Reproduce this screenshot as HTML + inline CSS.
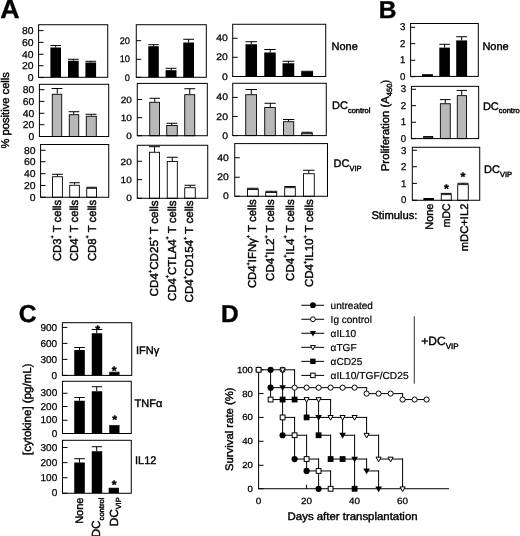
<!DOCTYPE html>
<html><head><meta charset="utf-8"><title>Figure</title>
<style>
html,body{margin:0;padding:0;background:#fff;}
svg{display:block;font-family:'Liberation Sans', sans-serif;}
text{fill:#000;stroke:#000;stroke-width:0.4px;text-rendering:geometricPrecision;}
</style></head>
<body>
<svg width="520" height="536" viewBox="0 0 520 536" font-family="'Liberation Sans', sans-serif">
<rect x="0" y="0" width="520" height="536" fill="#fff"/>
<text x="0.20" y="17.90" font-size="26" text-anchor="start" font-weight="bold" textLength="19.3" lengthAdjust="spacingAndGlyphs">A</text>
<line x1="55.70" y1="47.50" x2="55.70" y2="45.50" stroke="#000" stroke-width="1.0"/>
<line x1="50.40" y1="45.50" x2="61.00" y2="45.50" stroke="#000" stroke-width="1.0"/>
<rect x="50.40" y="47.50" width="10.60" height="29.80" fill="#000" stroke="none" stroke-width="0"/>
<line x1="73.35" y1="60.75" x2="73.35" y2="59.25" stroke="#000" stroke-width="1.0"/>
<line x1="68.00" y1="59.27" x2="78.70" y2="59.27" stroke="#000" stroke-width="1.0"/>
<rect x="68.00" y="60.75" width="10.70" height="16.55" fill="#000" stroke="none" stroke-width="0"/>
<line x1="90.73" y1="62.50" x2="90.73" y2="61.25" stroke="#000" stroke-width="1.0"/>
<line x1="85.40" y1="61.27" x2="96.10" y2="61.27" stroke="#000" stroke-width="1.0"/>
<rect x="85.40" y="62.50" width="10.70" height="14.80" fill="#000" stroke="none" stroke-width="0"/>
<rect x="38.60" y="24.73" width="69.13" height="52.57" fill="none" stroke="#000" stroke-width="1.0"/>
<line x1="38.60" y1="77.60" x2="43.60" y2="77.60" stroke="#000" stroke-width="1.0"/>
<text transform="translate(33.60 81.00) scale(1.04 1)" font-size="10" text-anchor="end" style="stroke-width:0.25px">0</text>
<line x1="38.60" y1="65.73" x2="43.60" y2="65.73" stroke="#000" stroke-width="1.0"/>
<text transform="translate(33.60 69.25) scale(1.04 1)" font-size="10" text-anchor="end" style="stroke-width:0.25px">20</text>
<line x1="38.60" y1="54.27" x2="43.60" y2="54.27" stroke="#000" stroke-width="1.0"/>
<text transform="translate(33.60 57.50) scale(1.04 1)" font-size="10" text-anchor="end" style="stroke-width:0.25px">40</text>
<line x1="38.60" y1="42.35" x2="43.60" y2="42.35" stroke="#000" stroke-width="1.0"/>
<text transform="translate(33.60 45.75) scale(1.04 1)" font-size="10" text-anchor="end" style="stroke-width:0.25px">60</text>
<line x1="38.60" y1="30.60" x2="43.60" y2="30.60" stroke="#000" stroke-width="1.0"/>
<text transform="translate(33.60 34.00) scale(1.04 1)" font-size="10" text-anchor="end" style="stroke-width:0.25px">80</text>
<line x1="57.27" y1="93.70" x2="57.27" y2="88.50" stroke="#000" stroke-width="1.0"/>
<line x1="51.60" y1="88.50" x2="62.40" y2="88.50" stroke="#000" stroke-width="1.0"/>
<rect x="52.27" y="94.27" width="9.46" height="42.23" fill="#b8b8b8" stroke="#000" stroke-width="0.9"/>
<line x1="73.73" y1="114.40" x2="73.73" y2="111.90" stroke="#000" stroke-width="1.0"/>
<line x1="68.60" y1="111.73" x2="79.30" y2="111.73" stroke="#000" stroke-width="1.0"/>
<rect x="69.27" y="114.73" width="9.46" height="21.77" fill="#b8b8b8" stroke="#000" stroke-width="0.9"/>
<line x1="91.27" y1="115.80" x2="91.27" y2="114.20" stroke="#000" stroke-width="1.0"/>
<line x1="85.60" y1="114.27" x2="96.50" y2="114.27" stroke="#000" stroke-width="1.0"/>
<rect x="86.27" y="116.27" width="10.00" height="20.23" fill="#b8b8b8" stroke="#000" stroke-width="0.9"/>
<rect x="39.40" y="84.30" width="69.30" height="52.20" fill="none" stroke="#000" stroke-width="1.0"/>
<line x1="39.40" y1="136.50" x2="44.40" y2="136.50" stroke="#000" stroke-width="1.0"/>
<text transform="translate(34.20 139.90) scale(1.04 1)" font-size="10" text-anchor="end" style="stroke-width:0.25px">0</text>
<line x1="39.40" y1="124.73" x2="44.40" y2="124.73" stroke="#000" stroke-width="1.0"/>
<text transform="translate(34.20 128.20) scale(1.04 1)" font-size="10" text-anchor="end" style="stroke-width:0.25px">20</text>
<line x1="39.40" y1="113.27" x2="44.40" y2="113.27" stroke="#000" stroke-width="1.0"/>
<text transform="translate(34.20 116.50) scale(1.04 1)" font-size="10" text-anchor="end" style="stroke-width:0.25px">40</text>
<line x1="39.40" y1="101.40" x2="44.40" y2="101.40" stroke="#000" stroke-width="1.0"/>
<text transform="translate(34.20 104.80) scale(1.04 1)" font-size="10" text-anchor="end" style="stroke-width:0.25px">60</text>
<line x1="39.40" y1="89.70" x2="44.40" y2="89.70" stroke="#000" stroke-width="1.0"/>
<text transform="translate(34.20 93.10) scale(1.04 1)" font-size="10" text-anchor="end" style="stroke-width:0.25px">80</text>
<line x1="57.48" y1="176.30" x2="57.48" y2="174.00" stroke="#000" stroke-width="1.0"/>
<line x1="52.10" y1="174.27" x2="62.85" y2="174.27" stroke="#000" stroke-width="1.0"/>
<rect x="52.55" y="176.73" width="9.85" height="20.54" fill="#fff" stroke="#000" stroke-width="0.9"/>
<line x1="74.60" y1="184.60" x2="74.60" y2="182.90" stroke="#000" stroke-width="1.0"/>
<line x1="69.40" y1="182.73" x2="79.80" y2="182.73" stroke="#000" stroke-width="1.0"/>
<rect x="69.73" y="185.27" width="9.62" height="12.00" fill="#fff" stroke="#000" stroke-width="0.9"/>
<line x1="91.70" y1="187.75" x2="91.70" y2="187.00" stroke="#000" stroke-width="1.0"/>
<line x1="86.40" y1="187.27" x2="97.00" y2="187.27" stroke="#000" stroke-width="1.0"/>
<rect x="86.73" y="188.27" width="9.82" height="9.00" fill="#fff" stroke="#000" stroke-width="0.9"/>
<rect x="40.60" y="144.50" width="68.13" height="52.77" fill="none" stroke="#000" stroke-width="1.0"/>
<line x1="40.60" y1="197.27" x2="45.60" y2="197.27" stroke="#000" stroke-width="1.0"/>
<text transform="translate(35.60 200.70) scale(1.04 1)" font-size="10" text-anchor="end" style="stroke-width:0.25px">0</text>
<line x1="40.60" y1="185.45" x2="45.60" y2="185.45" stroke="#000" stroke-width="1.0"/>
<text transform="translate(35.60 188.95) scale(1.04 1)" font-size="10" text-anchor="end" style="stroke-width:0.25px">20</text>
<line x1="40.60" y1="173.70" x2="45.60" y2="173.70" stroke="#000" stroke-width="1.0"/>
<text transform="translate(35.60 177.20) scale(1.04 1)" font-size="10" text-anchor="end" style="stroke-width:0.25px">40</text>
<line x1="40.60" y1="161.73" x2="45.60" y2="161.73" stroke="#000" stroke-width="1.0"/>
<text transform="translate(35.60 165.45) scale(1.04 1)" font-size="10" text-anchor="end" style="stroke-width:0.25px">60</text>
<line x1="40.60" y1="150.27" x2="45.60" y2="150.27" stroke="#000" stroke-width="1.0"/>
<text transform="translate(35.60 153.70) scale(1.04 1)" font-size="10" text-anchor="end" style="stroke-width:0.25px">80</text>
<line x1="153.55" y1="46.20" x2="153.55" y2="44.70" stroke="#000" stroke-width="1.0"/>
<line x1="148.30" y1="44.70" x2="158.80" y2="44.70" stroke="#000" stroke-width="1.0"/>
<rect x="148.30" y="46.20" width="10.50" height="31.10" fill="#000" stroke="none" stroke-width="0"/>
<line x1="171.27" y1="70.15" x2="171.27" y2="68.30" stroke="#000" stroke-width="1.0"/>
<line x1="165.60" y1="68.30" x2="176.50" y2="68.30" stroke="#000" stroke-width="1.0"/>
<rect x="165.60" y="70.15" width="10.90" height="7.15" fill="#000" stroke="none" stroke-width="0"/>
<line x1="188.62" y1="42.50" x2="188.62" y2="39.25" stroke="#000" stroke-width="1.0"/>
<line x1="183.25" y1="39.27" x2="194.00" y2="39.27" stroke="#000" stroke-width="1.0"/>
<rect x="183.25" y="42.50" width="10.75" height="34.80" fill="#000" stroke="none" stroke-width="0"/>
<rect x="136.27" y="24.73" width="70.03" height="52.57" fill="none" stroke="#000" stroke-width="1.0"/>
<line x1="136.15" y1="77.30" x2="141.15" y2="77.30" stroke="#000" stroke-width="1.0"/>
<text transform="translate(129.95 80.70) scale(0.97 1)" font-size="9.5" text-anchor="end" style="stroke-width:0.25px">0</text>
<line x1="136.15" y1="59.27" x2="141.15" y2="59.27" stroke="#000" stroke-width="1.0"/>
<text transform="translate(129.95 62.40) scale(0.97 1)" font-size="9.5" text-anchor="end" style="stroke-width:0.25px">10</text>
<line x1="136.15" y1="40.70" x2="141.15" y2="40.70" stroke="#000" stroke-width="1.0"/>
<text transform="translate(129.95 44.10) scale(0.97 1)" font-size="9.5" text-anchor="end" style="stroke-width:0.25px">20</text>
<line x1="154.73" y1="101.80" x2="154.73" y2="98.10" stroke="#000" stroke-width="1.0"/>
<line x1="149.50" y1="98.27" x2="160.00" y2="98.27" stroke="#000" stroke-width="1.0"/>
<rect x="149.73" y="102.27" width="9.82" height="33.46" fill="#b8b8b8" stroke="#000" stroke-width="0.9"/>
<line x1="171.73" y1="125.00" x2="171.73" y2="123.00" stroke="#000" stroke-width="1.0"/>
<line x1="166.40" y1="123.27" x2="177.50" y2="123.27" stroke="#000" stroke-width="1.0"/>
<rect x="166.73" y="125.45" width="10.54" height="10.28" fill="#b8b8b8" stroke="#000" stroke-width="0.9"/>
<line x1="189.73" y1="94.25" x2="189.73" y2="88.75" stroke="#000" stroke-width="1.0"/>
<line x1="184.30" y1="88.73" x2="195.20" y2="88.73" stroke="#000" stroke-width="1.0"/>
<rect x="184.73" y="94.70" width="10.00" height="41.03" fill="#b8b8b8" stroke="#000" stroke-width="0.9"/>
<rect x="137.27" y="83.40" width="70.03" height="52.33" fill="none" stroke="#000" stroke-width="1.0"/>
<line x1="137.20" y1="135.73" x2="142.20" y2="135.73" stroke="#000" stroke-width="1.0"/>
<text transform="translate(131.90 139.10) scale(1.12 1)" font-size="9" text-anchor="end" style="stroke-width:0.25px">0</text>
<line x1="137.20" y1="117.70" x2="142.20" y2="117.70" stroke="#000" stroke-width="1.0"/>
<text transform="translate(131.90 120.90) scale(1.12 1)" font-size="9" text-anchor="end" style="stroke-width:0.25px">10</text>
<line x1="137.20" y1="99.50" x2="142.20" y2="99.50" stroke="#000" stroke-width="1.0"/>
<text transform="translate(131.90 102.70) scale(1.12 1)" font-size="9" text-anchor="end" style="stroke-width:0.25px">20</text>
<line x1="154.50" y1="151.80" x2="154.50" y2="146.70" stroke="#000" stroke-width="1.0"/>
<line x1="149.00" y1="146.70" x2="160.00" y2="146.70" stroke="#000" stroke-width="1.0"/>
<rect x="149.45" y="152.27" width="10.10" height="46.00" fill="#fff" stroke="#000" stroke-width="0.9"/>
<line x1="172.27" y1="161.00" x2="172.27" y2="157.00" stroke="#000" stroke-width="1.0"/>
<line x1="166.75" y1="157.27" x2="177.75" y2="157.27" stroke="#000" stroke-width="1.0"/>
<rect x="167.27" y="161.45" width="10.03" height="36.82" fill="#fff" stroke="#000" stroke-width="0.9"/>
<line x1="190.27" y1="187.25" x2="190.27" y2="185.25" stroke="#000" stroke-width="1.0"/>
<line x1="184.50" y1="185.27" x2="195.50" y2="185.27" stroke="#000" stroke-width="1.0"/>
<rect x="184.73" y="187.70" width="10.54" height="10.57" fill="#fff" stroke="#000" stroke-width="0.9"/>
<rect x="137.27" y="145.27" width="70.46" height="53.00" fill="none" stroke="#000" stroke-width="1.0"/>
<line x1="137.10" y1="198.27" x2="142.10" y2="198.27" stroke="#000" stroke-width="1.0"/>
<text transform="translate(131.80 201.20) scale(1.12 1)" font-size="9" text-anchor="end" style="stroke-width:0.25px">0</text>
<line x1="137.10" y1="179.65" x2="142.10" y2="179.65" stroke="#000" stroke-width="1.0"/>
<text transform="translate(131.80 182.85) scale(1.12 1)" font-size="9" text-anchor="end" style="stroke-width:0.25px">10</text>
<line x1="137.10" y1="161.30" x2="142.10" y2="161.30" stroke="#000" stroke-width="1.0"/>
<text transform="translate(131.80 164.50) scale(1.12 1)" font-size="9" text-anchor="end" style="stroke-width:0.25px">20</text>
<line x1="251.27" y1="44.25" x2="251.27" y2="41.75" stroke="#000" stroke-width="1.0"/>
<line x1="245.50" y1="41.73" x2="257.00" y2="41.73" stroke="#000" stroke-width="1.0"/>
<rect x="245.50" y="44.25" width="11.50" height="32.25" fill="#000" stroke="none" stroke-width="0"/>
<line x1="270.27" y1="52.50" x2="270.27" y2="49.50" stroke="#000" stroke-width="1.0"/>
<line x1="264.25" y1="49.50" x2="275.75" y2="49.50" stroke="#000" stroke-width="1.0"/>
<rect x="264.25" y="52.50" width="11.50" height="24.00" fill="#000" stroke="none" stroke-width="0"/>
<line x1="288.38" y1="63.25" x2="288.38" y2="61.00" stroke="#000" stroke-width="1.0"/>
<line x1="282.50" y1="61.27" x2="294.25" y2="61.27" stroke="#000" stroke-width="1.0"/>
<rect x="282.50" y="63.25" width="11.75" height="13.25" fill="#000" stroke="none" stroke-width="0"/>
<line x1="307.27" y1="71.60" x2="307.27" y2="71.00" stroke="#000" stroke-width="1.0"/>
<line x1="301.20" y1="71.27" x2="313.10" y2="71.27" stroke="#000" stroke-width="1.0"/>
<rect x="301.20" y="71.60" width="11.90" height="4.90" fill="#000" stroke="none" stroke-width="0"/>
<rect x="232.70" y="24.27" width="93.03" height="52.23" fill="none" stroke="#000" stroke-width="1.0"/>
<line x1="232.70" y1="76.50" x2="237.70" y2="76.50" stroke="#000" stroke-width="1.0"/>
<text transform="translate(227.90 79.50) scale(1.1 1)" font-size="9.5" text-anchor="end" style="stroke-width:0.25px">0</text>
<line x1="232.70" y1="57.30" x2="237.70" y2="57.30" stroke="#000" stroke-width="1.0"/>
<text transform="translate(227.90 60.30) scale(1.1 1)" font-size="9.5" text-anchor="end" style="stroke-width:0.25px">20</text>
<line x1="232.70" y1="38.27" x2="237.70" y2="38.27" stroke="#000" stroke-width="1.0"/>
<text transform="translate(227.90 41.10) scale(1.1 1)" font-size="9.5" text-anchor="end" style="stroke-width:0.25px">40</text>
<line x1="251.27" y1="94.50" x2="251.27" y2="89.50" stroke="#000" stroke-width="1.0"/>
<line x1="245.50" y1="89.50" x2="257.00" y2="89.50" stroke="#000" stroke-width="1.0"/>
<rect x="245.73" y="94.73" width="10.82" height="40.87" fill="#b8b8b8" stroke="#000" stroke-width="0.9"/>
<line x1="270.27" y1="107.00" x2="270.27" y2="103.00" stroke="#000" stroke-width="1.0"/>
<line x1="264.50" y1="103.27" x2="275.75" y2="103.27" stroke="#000" stroke-width="1.0"/>
<rect x="264.73" y="107.45" width="10.57" height="28.15" fill="#b8b8b8" stroke="#000" stroke-width="0.9"/>
<line x1="288.62" y1="121.25" x2="288.62" y2="119.50" stroke="#000" stroke-width="1.0"/>
<line x1="283.00" y1="119.50" x2="294.25" y2="119.50" stroke="#000" stroke-width="1.0"/>
<rect x="283.45" y="121.70" width="10.28" height="13.90" fill="#b8b8b8" stroke="#000" stroke-width="0.9"/>
<line x1="307.27" y1="132.85" x2="307.27" y2="132.20" stroke="#000" stroke-width="1.0"/>
<line x1="301.50" y1="132.27" x2="312.50" y2="132.27" stroke="#000" stroke-width="1.0"/>
<rect x="301.73" y="133.30" width="10.54" height="2.30" fill="#b8b8b8" stroke="#000" stroke-width="0.9"/>
<rect x="232.73" y="83.27" width="93.54" height="52.33" fill="none" stroke="#000" stroke-width="1.0"/>
<line x1="232.80" y1="135.60" x2="237.80" y2="135.60" stroke="#000" stroke-width="1.0"/>
<text transform="translate(228.00 138.60) scale(1.1 1)" font-size="9.5" text-anchor="end" style="stroke-width:0.25px">0</text>
<line x1="232.80" y1="116.50" x2="237.80" y2="116.50" stroke="#000" stroke-width="1.0"/>
<text transform="translate(228.00 119.50) scale(1.1 1)" font-size="9.5" text-anchor="end" style="stroke-width:0.25px">20</text>
<line x1="232.80" y1="97.40" x2="237.80" y2="97.40" stroke="#000" stroke-width="1.0"/>
<text transform="translate(228.00 100.40) scale(1.1 1)" font-size="9.5" text-anchor="end" style="stroke-width:0.25px">40</text>
<line x1="252.73" y1="189.00" x2="252.73" y2="188.25" stroke="#000" stroke-width="1.0"/>
<line x1="247.00" y1="188.27" x2="258.50" y2="188.27" stroke="#000" stroke-width="1.0"/>
<rect x="247.45" y="189.45" width="10.82" height="6.82" fill="#fff" stroke="#000" stroke-width="0.9"/>
<line x1="271.38" y1="192.00" x2="271.38" y2="191.30" stroke="#000" stroke-width="1.0"/>
<line x1="265.50" y1="191.30" x2="277.25" y2="191.30" stroke="#000" stroke-width="1.0"/>
<rect x="265.73" y="192.45" width="11.00" height="3.82" fill="#fff" stroke="#000" stroke-width="0.9"/>
<line x1="290.27" y1="187.25" x2="290.27" y2="186.50" stroke="#000" stroke-width="1.0"/>
<line x1="284.25" y1="186.50" x2="295.75" y2="186.50" stroke="#000" stroke-width="1.0"/>
<rect x="284.70" y="187.70" width="10.60" height="8.57" fill="#fff" stroke="#000" stroke-width="0.9"/>
<line x1="308.73" y1="173.25" x2="308.73" y2="170.25" stroke="#000" stroke-width="1.0"/>
<line x1="303.00" y1="170.27" x2="314.50" y2="170.27" stroke="#000" stroke-width="1.0"/>
<rect x="303.45" y="173.70" width="10.82" height="22.57" fill="#fff" stroke="#000" stroke-width="0.9"/>
<rect x="234.73" y="143.60" width="92.77" height="52.67" fill="none" stroke="#000" stroke-width="1.0"/>
<line x1="234.80" y1="196.27" x2="239.80" y2="196.27" stroke="#000" stroke-width="1.0"/>
<text transform="translate(228.80 199.20) scale(1.1 1)" font-size="9.5" text-anchor="end" style="stroke-width:0.25px">0</text>
<line x1="234.80" y1="177.27" x2="239.80" y2="177.27" stroke="#000" stroke-width="1.0"/>
<text transform="translate(228.80 180.00) scale(1.1 1)" font-size="9.5" text-anchor="end" style="stroke-width:0.25px">20</text>
<line x1="234.80" y1="157.73" x2="239.80" y2="157.73" stroke="#000" stroke-width="1.0"/>
<text transform="translate(228.80 160.80) scale(1.1 1)" font-size="9.5" text-anchor="end" style="stroke-width:0.25px">40</text>
<text x="9.30" y="148.40" font-size="11.2" text-anchor="start" transform="rotate(-90 9.30 148.40)" textLength="76.3" lengthAdjust="spacingAndGlyphs">% positive cells</text>
<text x="60.70" y="199.80" font-size="11.5" text-anchor="end" transform="rotate(-90 60.70 199.80)" textLength="61.3" lengthAdjust="spacingAndGlyphs">CD3<tspan font-size="5.5" dy="-6.30">+</tspan><tspan dy="6.30"> T cells</tspan></text>
<text x="78.20" y="199.80" font-size="11.5" text-anchor="end" transform="rotate(-90 78.20 199.80)" textLength="61.3" lengthAdjust="spacingAndGlyphs">CD4<tspan font-size="5.5" dy="-6.30">+</tspan><tspan dy="6.30"> T cells</tspan></text>
<text x="95.70" y="199.80" font-size="11.5" text-anchor="end" transform="rotate(-90 95.70 199.80)" textLength="61.3" lengthAdjust="spacingAndGlyphs">CD8<tspan font-size="5.5" dy="-6.30">+</tspan><tspan dy="6.30"> T cells</tspan></text>
<text x="158.40" y="200.40" font-size="11.5" text-anchor="end" transform="rotate(-90 158.40 200.40)" textLength="96.0" lengthAdjust="spacingAndGlyphs">CD4<tspan font-size="5.5" dy="-6.30">+</tspan><tspan dy="6.30">CD25</tspan><tspan font-size="5.5" dy="-6.30">+</tspan><tspan dy="6.30"> T cells</tspan></text>
<text x="175.80" y="200.40" font-size="11.5" text-anchor="end" transform="rotate(-90 175.80 200.40)" textLength="100.6" lengthAdjust="spacingAndGlyphs">CD4<tspan font-size="5.5" dy="-6.30">+</tspan><tspan dy="6.30">CTLA4</tspan><tspan font-size="5.5" dy="-6.30">+</tspan><tspan dy="6.30"> T cells</tspan></text>
<text x="193.10" y="200.40" font-size="11.5" text-anchor="end" transform="rotate(-90 193.10 200.40)" textLength="102.0" lengthAdjust="spacingAndGlyphs">CD4<tspan font-size="5.5" dy="-6.30">+</tspan><tspan dy="6.30">CD154</tspan><tspan font-size="5.5" dy="-6.30">+</tspan><tspan dy="6.30"> T cells</tspan></text>
<text x="256.00" y="199.30" font-size="11.5" text-anchor="end" transform="rotate(-90 256.00 199.30)" textLength="88.8" lengthAdjust="spacingAndGlyphs">CD4<tspan font-size="5.5" dy="-6.30">+</tspan><tspan dy="6.30">IFN&#947;</tspan><tspan font-size="5.5" dy="-6.30">+</tspan><tspan dy="6.30"> T cells</tspan></text>
<text x="274.40" y="199.30" font-size="11.5" text-anchor="end" transform="rotate(-90 274.40 199.30)" textLength="81.6" lengthAdjust="spacingAndGlyphs">CD4<tspan font-size="5.5" dy="-6.30">+</tspan><tspan dy="6.30">IL2</tspan><tspan font-size="5.5" dy="-6.30">+</tspan><tspan dy="6.30"> T cells</tspan></text>
<text x="293.60" y="199.30" font-size="11.5" text-anchor="end" transform="rotate(-90 293.60 199.30)" textLength="81.6" lengthAdjust="spacingAndGlyphs">CD4<tspan font-size="5.5" dy="-6.30">+</tspan><tspan dy="6.30">IL4</tspan><tspan font-size="5.5" dy="-6.30">+</tspan><tspan dy="6.30"> T cells</tspan></text>
<text x="313.00" y="199.30" font-size="11.5" text-anchor="end" transform="rotate(-90 313.00 199.30)" textLength="87.8" lengthAdjust="spacingAndGlyphs">CD4<tspan font-size="5.5" dy="-6.30">+</tspan><tspan dy="6.30">IL10</tspan><tspan font-size="5.5" dy="-6.30">+</tspan><tspan dy="6.30"> T cells</tspan></text>
<text x="331.50" y="50.40" font-size="11" text-anchor="start">None</text>
<text x="332.00" y="109.40" font-size="11" text-anchor="start">DC<tspan font-size="7.5" dy="3.30">control</tspan></text>
<text x="333.50" y="167.30" font-size="11" text-anchor="start">DC<tspan font-size="7.5" dy="3.30">VIP</tspan></text>
<text x="378.80" y="18.20" font-size="24.5" text-anchor="start" font-weight="bold">B</text>
<line x1="427.50" y1="74.73" x2="427.50" y2="74.73" stroke="#000" stroke-width="1.0"/>
<line x1="422.10" y1="74.73" x2="432.90" y2="74.73" stroke="#000" stroke-width="1.0"/>
<rect x="422.10" y="74.80" width="10.80" height="1.60" fill="#000" stroke="none" stroke-width="0"/>
<line x1="444.60" y1="47.60" x2="444.60" y2="44.10" stroke="#000" stroke-width="1.0"/>
<line x1="439.30" y1="44.27" x2="449.90" y2="44.27" stroke="#000" stroke-width="1.0"/>
<rect x="439.30" y="47.60" width="10.60" height="28.80" fill="#000" stroke="none" stroke-width="0"/>
<line x1="461.65" y1="40.40" x2="461.65" y2="36.90" stroke="#000" stroke-width="1.0"/>
<line x1="456.20" y1="36.73" x2="467.10" y2="36.73" stroke="#000" stroke-width="1.0"/>
<rect x="456.20" y="40.40" width="10.90" height="36.00" fill="#000" stroke="none" stroke-width="0"/>
<rect x="410.60" y="23.50" width="67.70" height="52.90" fill="none" stroke="#000" stroke-width="1.0"/>
<line x1="410.60" y1="76.70" x2="415.20" y2="76.70" stroke="#000" stroke-width="1.0"/>
<text transform="translate(405.30 80.00) scale(0.98 1)" font-size="9.9" text-anchor="end" style="stroke-width:0.25px">0</text>
<line x1="410.60" y1="60.27" x2="415.20" y2="60.27" stroke="#000" stroke-width="1.0"/>
<text transform="translate(405.30 63.47) scale(0.98 1)" font-size="9.9" text-anchor="end" style="stroke-width:0.25px">1</text>
<line x1="410.60" y1="43.64" x2="415.20" y2="43.64" stroke="#000" stroke-width="1.0"/>
<text transform="translate(405.30 46.94) scale(0.98 1)" font-size="9.9" text-anchor="end" style="stroke-width:0.25px">2</text>
<line x1="410.60" y1="27.27" x2="415.20" y2="27.27" stroke="#000" stroke-width="1.0"/>
<text transform="translate(405.30 30.41) scale(0.98 1)" font-size="9.9" text-anchor="end" style="stroke-width:0.25px">3</text>
<line x1="428.27" y1="136.60" x2="428.27" y2="136.60" stroke="#000" stroke-width="1.0"/>
<line x1="423.20" y1="136.60" x2="433.20" y2="136.60" stroke="#000" stroke-width="1.0"/>
<rect x="423.65" y="137.27" width="9.08" height="1.33" fill="#b8b8b8" stroke="#000" stroke-width="0.9"/>
<line x1="445.27" y1="103.30" x2="445.27" y2="99.60" stroke="#000" stroke-width="1.0"/>
<line x1="439.90" y1="99.60" x2="450.60" y2="99.60" stroke="#000" stroke-width="1.0"/>
<rect x="440.35" y="103.73" width="9.92" height="34.87" fill="#b8b8b8" stroke="#000" stroke-width="0.9"/>
<line x1="461.73" y1="95.20" x2="461.73" y2="90.40" stroke="#000" stroke-width="1.0"/>
<line x1="456.60" y1="90.40" x2="467.00" y2="90.40" stroke="#000" stroke-width="1.0"/>
<rect x="457.27" y="95.65" width="9.28" height="42.95" fill="#b8b8b8" stroke="#000" stroke-width="0.9"/>
<rect x="411.40" y="86.35" width="67.25" height="52.25" fill="none" stroke="#000" stroke-width="1.0"/>
<line x1="411.40" y1="138.60" x2="416.00" y2="138.60" stroke="#000" stroke-width="1.0"/>
<text transform="translate(406.10 141.90) scale(0.98 1)" font-size="9.9" text-anchor="end" style="stroke-width:0.25px">0</text>
<line x1="411.40" y1="122.27" x2="416.00" y2="122.27" stroke="#000" stroke-width="1.0"/>
<text transform="translate(406.10 125.43) scale(0.98 1)" font-size="9.9" text-anchor="end" style="stroke-width:0.25px">1</text>
<line x1="411.40" y1="105.66" x2="416.00" y2="105.66" stroke="#000" stroke-width="1.0"/>
<text transform="translate(406.10 108.96) scale(0.98 1)" font-size="9.9" text-anchor="end" style="stroke-width:0.25px">2</text>
<line x1="411.40" y1="89.27" x2="416.00" y2="89.27" stroke="#000" stroke-width="1.0"/>
<text transform="translate(406.10 92.49) scale(0.98 1)" font-size="9.9" text-anchor="end" style="stroke-width:0.25px">3</text>
<line x1="446.27" y1="194.20" x2="446.27" y2="193.40" stroke="#000" stroke-width="1.0"/>
<line x1="440.70" y1="193.40" x2="451.60" y2="193.40" stroke="#000" stroke-width="1.0"/>
<rect x="441.27" y="194.65" width="10.00" height="5.62" fill="#fff" stroke="#000" stroke-width="0.9"/>
<line x1="463.27" y1="184.20" x2="463.27" y2="183.00" stroke="#000" stroke-width="1.0"/>
<line x1="457.40" y1="183.27" x2="468.60" y2="183.27" stroke="#000" stroke-width="1.0"/>
<rect x="457.73" y="184.65" width="10.54" height="15.62" fill="#fff" stroke="#000" stroke-width="0.9"/>
<rect x="412.30" y="147.27" width="67.43" height="53.00" fill="none" stroke="#000" stroke-width="1.0"/>
<line x1="412.30" y1="200.27" x2="416.90" y2="200.27" stroke="#000" stroke-width="1.0"/>
<text transform="translate(406.30 203.30) scale(0.98 1)" font-size="9.9" text-anchor="end" style="stroke-width:0.25px">0</text>
<line x1="412.30" y1="183.40" x2="416.90" y2="183.40" stroke="#000" stroke-width="1.0"/>
<text transform="translate(406.30 186.70) scale(0.98 1)" font-size="9.9" text-anchor="end" style="stroke-width:0.25px">1</text>
<line x1="412.30" y1="166.73" x2="416.90" y2="166.73" stroke="#000" stroke-width="1.0"/>
<text transform="translate(406.30 170.10) scale(0.98 1)" font-size="9.9" text-anchor="end" style="stroke-width:0.25px">2</text>
<line x1="412.30" y1="150.27" x2="416.90" y2="150.27" stroke="#000" stroke-width="1.0"/>
<text transform="translate(406.30 153.50) scale(0.98 1)" font-size="9.9" text-anchor="end" style="stroke-width:0.25px">3</text>
<rect x="423.40" y="198.00" width="10.60" height="2.00" fill="#000" stroke="none" stroke-width="0"/>
<text x="389.40" y="171.20" font-size="11.3" text-anchor="start" transform="rotate(-90 389.40 171.20)" textLength="91.4" lengthAdjust="spacingAndGlyphs">Proliferation (A<tspan font-size="7.5" dy="2.50">450</tspan><tspan dy="-2.50">)</tspan></text>
<text x="482.40" y="50.40" font-size="11" text-anchor="start">None</text>
<text x="482.90" y="110.00" font-size="11" text-anchor="start">DC<tspan font-size="7.5" dy="3.30">control</tspan></text>
<text x="484.00" y="173.30" font-size="11" text-anchor="start">DC<tspan font-size="7.5" dy="3.30">VIP</tspan></text>
<text x="371.40" y="219.40" font-size="11.2" text-anchor="start" textLength="46.0" lengthAdjust="spacingAndGlyphs">Stimulus:</text>
<text x="432.50" y="203.50" font-size="11" text-anchor="end" transform="rotate(-90 432.50 203.50)" textLength="26.3" lengthAdjust="spacingAndGlyphs">None</text>
<text x="450.00" y="203.50" font-size="11" text-anchor="end" transform="rotate(-90 450.00 203.50)" textLength="23.7" lengthAdjust="spacingAndGlyphs">mDC</text>
<text x="467.90" y="203.50" font-size="11" text-anchor="end" transform="rotate(-90 467.90 203.50)" textLength="47.8" lengthAdjust="spacingAndGlyphs">mDC+IL2</text>
<text x="446.40" y="192.90" font-size="12.5" text-anchor="middle" font-weight="bold">*</text>
<text x="462.90" y="180.90" font-size="12.5" text-anchor="middle" font-weight="bold">*</text>
<text x="18.70" y="321.70" font-size="24.5" text-anchor="start" font-weight="bold">C</text>
<line x1="79.53" y1="350.00" x2="79.53" y2="347.50" stroke="#000" stroke-width="1.0"/>
<line x1="74.25" y1="347.50" x2="84.80" y2="347.50" stroke="#000" stroke-width="1.0"/>
<rect x="74.25" y="350.00" width="10.55" height="25.40" fill="#000" stroke="none" stroke-width="0"/>
<line x1="96.73" y1="333.25" x2="96.73" y2="329.50" stroke="#000" stroke-width="1.0"/>
<line x1="91.75" y1="329.50" x2="102.20" y2="329.50" stroke="#000" stroke-width="1.0"/>
<rect x="91.75" y="333.25" width="10.45" height="42.15" fill="#000" stroke="none" stroke-width="0"/>
<line x1="114.38" y1="372.50" x2="114.38" y2="372.00" stroke="#000" stroke-width="1.0"/>
<line x1="109.25" y1="372.27" x2="119.50" y2="372.27" stroke="#000" stroke-width="1.0"/>
<rect x="109.25" y="372.50" width="10.25" height="2.90" fill="#000" stroke="none" stroke-width="0"/>
<rect x="62.40" y="322.70" width="69.33" height="52.70" fill="none" stroke="#000" stroke-width="1.0"/>
<line x1="62.40" y1="375.40" x2="67.40" y2="375.40" stroke="#000" stroke-width="1.0"/>
<text transform="translate(57.10 378.80) scale(1.0 1)" font-size="10" text-anchor="end" style="stroke-width:0.25px">0</text>
<line x1="62.40" y1="359.40" x2="67.40" y2="359.40" stroke="#000" stroke-width="1.0"/>
<text transform="translate(57.10 362.80) scale(1.0 1)" font-size="10" text-anchor="end" style="stroke-width:0.25px">300</text>
<line x1="62.40" y1="343.40" x2="67.40" y2="343.40" stroke="#000" stroke-width="1.0"/>
<text transform="translate(57.10 346.80) scale(1.0 1)" font-size="10" text-anchor="end" style="stroke-width:0.25px">600</text>
<line x1="62.40" y1="327.40" x2="67.40" y2="327.40" stroke="#000" stroke-width="1.0"/>
<text transform="translate(57.10 330.80) scale(1.0 1)" font-size="10" text-anchor="end" style="stroke-width:0.25px">900</text>
<line x1="79.53" y1="400.75" x2="79.53" y2="397.50" stroke="#000" stroke-width="1.0"/>
<line x1="74.25" y1="397.50" x2="84.80" y2="397.50" stroke="#000" stroke-width="1.0"/>
<rect x="74.25" y="400.75" width="10.55" height="32.75" fill="#000" stroke="none" stroke-width="0"/>
<line x1="96.73" y1="391.25" x2="96.73" y2="386.75" stroke="#000" stroke-width="1.0"/>
<line x1="91.75" y1="386.73" x2="102.20" y2="386.73" stroke="#000" stroke-width="1.0"/>
<rect x="91.75" y="391.25" width="10.45" height="42.25" fill="#000" stroke="none" stroke-width="0"/>
<line x1="114.38" y1="425.73" x2="114.38" y2="425.73" stroke="#000" stroke-width="1.0"/>
<line x1="109.25" y1="425.73" x2="119.50" y2="425.73" stroke="#000" stroke-width="1.0"/>
<rect x="109.25" y="425.75" width="10.25" height="7.75" fill="#000" stroke="none" stroke-width="0"/>
<rect x="62.50" y="381.27" width="68.77" height="52.23" fill="none" stroke="#000" stroke-width="1.0"/>
<line x1="62.50" y1="433.50" x2="67.50" y2="433.50" stroke="#000" stroke-width="1.0"/>
<text transform="translate(57.20 436.90) scale(1.0 1)" font-size="10" text-anchor="end" style="stroke-width:0.25px">0</text>
<line x1="62.50" y1="420.27" x2="67.50" y2="420.27" stroke="#000" stroke-width="1.0"/>
<text transform="translate(57.20 423.40) scale(1.0 1)" font-size="10" text-anchor="end" style="stroke-width:0.25px">100</text>
<line x1="62.50" y1="406.50" x2="67.50" y2="406.50" stroke="#000" stroke-width="1.0"/>
<text transform="translate(57.20 409.90) scale(1.0 1)" font-size="10" text-anchor="end" style="stroke-width:0.25px">200</text>
<line x1="62.50" y1="393.27" x2="67.50" y2="393.27" stroke="#000" stroke-width="1.0"/>
<text transform="translate(57.20 396.40) scale(1.0 1)" font-size="10" text-anchor="end" style="stroke-width:0.25px">300</text>
<line x1="79.53" y1="462.50" x2="79.53" y2="458.75" stroke="#000" stroke-width="1.0"/>
<line x1="74.25" y1="458.73" x2="84.80" y2="458.73" stroke="#000" stroke-width="1.0"/>
<rect x="74.25" y="462.50" width="10.55" height="30.50" fill="#000" stroke="none" stroke-width="0"/>
<line x1="96.73" y1="451.25" x2="96.73" y2="446.75" stroke="#000" stroke-width="1.0"/>
<line x1="91.75" y1="446.73" x2="102.20" y2="446.73" stroke="#000" stroke-width="1.0"/>
<rect x="91.75" y="451.25" width="10.45" height="41.75" fill="#000" stroke="none" stroke-width="0"/>
<line x1="113.73" y1="488.27" x2="113.73" y2="488.27" stroke="#000" stroke-width="1.0"/>
<line x1="108.70" y1="488.27" x2="118.90" y2="488.27" stroke="#000" stroke-width="1.0"/>
<rect x="108.70" y="488.25" width="10.20" height="4.75" fill="#000" stroke="none" stroke-width="0"/>
<rect x="62.50" y="440.30" width="68.77" height="52.97" fill="none" stroke="#000" stroke-width="1.0"/>
<line x1="62.50" y1="493.27" x2="67.50" y2="493.27" stroke="#000" stroke-width="1.0"/>
<text transform="translate(57.20 496.40) scale(1.0 1)" font-size="10" text-anchor="end" style="stroke-width:0.25px">0</text>
<line x1="62.50" y1="477.73" x2="67.50" y2="477.73" stroke="#000" stroke-width="1.0"/>
<text transform="translate(57.20 481.23) scale(1.0 1)" font-size="10" text-anchor="end" style="stroke-width:0.25px">100</text>
<line x1="62.50" y1="462.66" x2="67.50" y2="462.66" stroke="#000" stroke-width="1.0"/>
<text transform="translate(57.20 466.06) scale(1.0 1)" font-size="10" text-anchor="end" style="stroke-width:0.25px">200</text>
<line x1="62.50" y1="447.49" x2="67.50" y2="447.49" stroke="#000" stroke-width="1.0"/>
<text transform="translate(57.20 450.89) scale(1.0 1)" font-size="10" text-anchor="end" style="stroke-width:0.25px">300</text>
<text x="31.20" y="455.00" font-size="11.5" text-anchor="start" transform="rotate(-90 31.20 455.00)" textLength="91.5" lengthAdjust="spacingAndGlyphs">[cytokine] (pg/mL)</text>
<text x="136.00" y="353.80" font-size="11" text-anchor="start">IFN&#947;</text>
<text x="134.60" y="407.10" font-size="11" text-anchor="start">TNF&#945;</text>
<text x="135.00" y="464.20" font-size="11" text-anchor="start">IL12</text>
<text x="97.80" y="334.20" font-size="12.5" text-anchor="middle" font-weight="bold">*</text>
<text x="114.30" y="375.20" font-size="12.5" text-anchor="middle" font-weight="bold">*</text>
<text x="114.80" y="424.00" font-size="12.5" text-anchor="middle" font-weight="bold">*</text>
<text x="114.30" y="489.00" font-size="12.5" text-anchor="middle" font-weight="bold">*</text>
<text x="83.10" y="497.60" font-size="11" text-anchor="end" transform="rotate(-90 83.10 497.60)" textLength="26.2" lengthAdjust="spacingAndGlyphs">None</text>
<text x="100.50" y="497.60" font-size="11.8" text-anchor="end" transform="rotate(-90 100.50 497.60)">DC<tspan font-size="7.6" dy="3.80">control</tspan></text>
<text x="118.30" y="497.40" font-size="11.8" text-anchor="end" transform="rotate(-90 118.30 497.40)">DC<tspan font-size="7.4" dy="2.40">VIP</tspan></text>
<text x="220.90" y="321.90" font-size="24.5" text-anchor="start" font-weight="bold">D</text>
<line x1="258.60" y1="369.80" x2="258.60" y2="488.80" stroke="#000" stroke-width="1.0"/>
<line x1="258.10" y1="488.73" x2="449.00" y2="488.73" stroke="#000" stroke-width="1.0"/>
<line x1="258.60" y1="488.73" x2="263.60" y2="488.73" stroke="#000" stroke-width="1.0"/>
<text transform="translate(252.90 491.70) scale(1.08 1)" font-size="8.9" text-anchor="end" style="stroke-width:0.25px">0</text>
<line x1="258.60" y1="465.27" x2="263.60" y2="465.27" stroke="#000" stroke-width="1.0"/>
<text transform="translate(252.90 467.90) scale(1.08 1)" font-size="8.9" text-anchor="end" style="stroke-width:0.25px">20</text>
<line x1="258.60" y1="441.27" x2="263.60" y2="441.27" stroke="#000" stroke-width="1.0"/>
<text transform="translate(252.90 444.10) scale(1.08 1)" font-size="8.9" text-anchor="end" style="stroke-width:0.25px">40</text>
<line x1="258.60" y1="417.40" x2="263.60" y2="417.40" stroke="#000" stroke-width="1.0"/>
<text transform="translate(252.90 420.30) scale(1.08 1)" font-size="8.9" text-anchor="end" style="stroke-width:0.25px">60</text>
<line x1="258.60" y1="393.60" x2="263.60" y2="393.60" stroke="#000" stroke-width="1.0"/>
<text transform="translate(252.90 396.50) scale(1.08 1)" font-size="8.9" text-anchor="end" style="stroke-width:0.25px">80</text>
<line x1="258.60" y1="369.73" x2="263.60" y2="369.73" stroke="#000" stroke-width="1.0"/>
<text transform="translate(252.90 372.70) scale(1.08 1)" font-size="8.9" text-anchor="end" style="stroke-width:0.25px">100</text>
<text transform="translate(258.60 503.70) scale(1.1 1)" font-size="9.0" text-anchor="middle" style="stroke-width:0.25px">0</text>
<line x1="306.60" y1="488.80" x2="306.60" y2="484.80" stroke="#000" stroke-width="1.0"/>
<text transform="translate(306.60 503.70) scale(1.1 1)" font-size="9.0" text-anchor="middle" style="stroke-width:0.25px">20</text>
<line x1="354.60" y1="488.80" x2="354.60" y2="484.80" stroke="#000" stroke-width="1.0"/>
<text transform="translate(354.60 503.70) scale(1.1 1)" font-size="9.0" text-anchor="middle" style="stroke-width:0.25px">40</text>
<line x1="402.60" y1="488.80" x2="402.60" y2="484.80" stroke="#000" stroke-width="1.0"/>
<text transform="translate(402.60 503.70) scale(1.1 1)" font-size="9.0" text-anchor="middle" style="stroke-width:0.25px">60</text>
<text x="287.60" y="520.00" font-size="11" text-anchor="start" textLength="130.0" lengthAdjust="spacingAndGlyphs">Days after transplantation</text>
<text x="233.30" y="471.00" font-size="11" text-anchor="start" transform="rotate(-90 233.30 471.00)" textLength="83.6" lengthAdjust="spacingAndGlyphs">Survival rate (%)</text>
<path d="M258.60,369.80H294.60M270.60,387.65H366.60M282.60,435.25H306.60M318.60,435.25H330.60M342.60,435.25H354.60M366.60,435.25H378.60M294.60,459.05H318.60M330.60,459.05H366.60M378.60,459.05H402.60M306.60,470.95H330.60M366.60,470.95H378.60M366.60,393.60H402.60M270.60,399.55H330.60M402.60,399.55H426.60M282.60,417.40H294.60M306.60,417.40H366.60M270.60,399.55V369.80M282.60,435.25V369.80M294.60,459.05V417.40M294.60,399.55V369.80M306.60,470.95V435.25M306.60,417.40V399.55M318.60,488.80V459.05M318.60,435.25V399.55M366.60,470.95V459.05M366.60,435.25V417.40M366.60,393.60V387.65M402.60,488.80V459.05M402.60,399.55V393.60M342.60,435.25V417.40M354.60,488.80V435.25M378.60,488.80V470.95M378.60,459.05V435.25M330.60,488.80V470.95M330.60,459.05V435.25M330.60,417.40V399.55" fill="none" stroke="#000" stroke-width="1" stroke-linecap="square"/>
<circle cx="270.60" cy="369.80" r="3.10" fill="#000"/>
<circle cx="270.60" cy="387.65" r="3.10" fill="#000"/>
<circle cx="282.60" cy="435.25" r="3.10" fill="#000"/>
<circle cx="294.60" cy="459.05" r="3.10" fill="#000"/>
<circle cx="306.60" cy="470.95" r="3.10" fill="#000"/>
<circle cx="318.60" cy="488.80" r="3.10" fill="#000"/>
<circle cx="258.60" cy="369.80" r="2.60" fill="#fff" stroke="#000" stroke-width="1"/>
<circle cx="282.60" cy="369.80" r="2.60" fill="#fff" stroke="#000" stroke-width="1"/>
<circle cx="294.60" cy="387.65" r="2.60" fill="#fff" stroke="#000" stroke-width="1"/>
<circle cx="306.60" cy="387.65" r="2.60" fill="#fff" stroke="#000" stroke-width="1"/>
<circle cx="318.60" cy="387.65" r="2.60" fill="#fff" stroke="#000" stroke-width="1"/>
<circle cx="330.60" cy="387.65" r="2.60" fill="#fff" stroke="#000" stroke-width="1"/>
<circle cx="342.60" cy="387.65" r="2.60" fill="#fff" stroke="#000" stroke-width="1"/>
<circle cx="354.60" cy="387.65" r="2.60" fill="#fff" stroke="#000" stroke-width="1"/>
<circle cx="366.60" cy="393.60" r="2.60" fill="#fff" stroke="#000" stroke-width="1"/>
<circle cx="378.60" cy="393.60" r="2.60" fill="#fff" stroke="#000" stroke-width="1"/>
<circle cx="390.60" cy="393.60" r="2.60" fill="#fff" stroke="#000" stroke-width="1"/>
<circle cx="402.60" cy="399.55" r="2.60" fill="#fff" stroke="#000" stroke-width="1"/>
<circle cx="414.60" cy="399.55" r="2.60" fill="#fff" stroke="#000" stroke-width="1"/>
<circle cx="426.60" cy="399.55" r="2.60" fill="#fff" stroke="#000" stroke-width="1"/>
<path d="M279.30,385.25 L285.90,385.25 L282.60,391.05 Z" fill="#000"/>
<path d="M315.30,415.00 L321.90,415.00 L318.60,420.80 Z" fill="#000"/>
<path d="M339.30,432.85 L345.90,432.85 L342.60,438.65 Z" fill="#000"/>
<path d="M351.30,456.65 L357.90,456.65 L354.60,462.45 Z" fill="#000"/>
<path d="M363.30,468.55 L369.90,468.55 L366.60,474.35 Z" fill="#000"/>
<path d="M375.30,486.40 L381.90,486.40 L378.60,492.20 Z" fill="#000"/>
<path d="M280.00,367.90 L285.20,367.90 L282.60,372.60 Z" fill="#fff" stroke="#000" stroke-width="1"/>
<path d="M304.00,397.65 L309.20,397.65 L306.60,402.35 Z" fill="#fff" stroke="#000" stroke-width="1"/>
<path d="M316.00,397.65 L321.20,397.65 L318.60,402.35 Z" fill="#fff" stroke="#000" stroke-width="1"/>
<path d="M328.00,415.50 L333.20,415.50 L330.60,420.20 Z" fill="#fff" stroke="#000" stroke-width="1"/>
<path d="M340.00,415.50 L345.20,415.50 L342.60,420.20 Z" fill="#fff" stroke="#000" stroke-width="1"/>
<path d="M352.00,415.50 L357.20,415.50 L354.60,420.20 Z" fill="#fff" stroke="#000" stroke-width="1"/>
<path d="M364.00,433.35 L369.20,433.35 L366.60,438.05 Z" fill="#fff" stroke="#000" stroke-width="1"/>
<path d="M376.00,457.15 L381.20,457.15 L378.60,461.85 Z" fill="#fff" stroke="#000" stroke-width="1"/>
<path d="M388.00,457.15 L393.20,457.15 L390.60,461.85 Z" fill="#fff" stroke="#000" stroke-width="1"/>
<path d="M400.00,486.90 L405.20,486.90 L402.60,491.60 Z" fill="#fff" stroke="#000" stroke-width="1"/>
<rect x="279.70" y="396.65" width="5.80" height="5.80" fill="#000"/>
<rect x="291.70" y="396.65" width="5.80" height="5.80" fill="#000"/>
<rect x="303.70" y="414.50" width="5.80" height="5.80" fill="#000"/>
<rect x="315.70" y="432.35" width="5.80" height="5.80" fill="#000"/>
<rect x="327.70" y="456.15" width="5.80" height="5.80" fill="#000"/>
<rect x="339.70" y="456.15" width="5.80" height="5.80" fill="#000"/>
<rect x="351.70" y="485.90" width="5.80" height="5.80" fill="#000"/>
<rect x="256.20" y="367.40" width="4.80" height="4.80" fill="#fff" stroke="#000" stroke-width="1"/>
<rect x="268.20" y="397.15" width="4.80" height="4.80" fill="#fff" stroke="#000" stroke-width="1"/>
<rect x="280.20" y="415.00" width="4.80" height="4.80" fill="#fff" stroke="#000" stroke-width="1"/>
<rect x="292.20" y="432.85" width="4.80" height="4.80" fill="#fff" stroke="#000" stroke-width="1"/>
<rect x="304.20" y="456.65" width="4.80" height="4.80" fill="#fff" stroke="#000" stroke-width="1"/>
<rect x="316.20" y="468.55" width="4.80" height="4.80" fill="#fff" stroke="#000" stroke-width="1"/>
<rect x="328.20" y="486.40" width="4.80" height="4.80" fill="#fff" stroke="#000" stroke-width="1"/>
<line x1="301.30" y1="305.27" x2="324.20" y2="305.27" stroke="#000" stroke-width="1.0"/>
<circle cx="312.90" cy="305.20" r="2.88" fill="#000"/>
<text x="330.60" y="308.50" font-size="10.1" text-anchor="start" textLength="42.3" lengthAdjust="spacingAndGlyphs" style="stroke-width:0.2px">untreated</text>
<line x1="301.30" y1="319.27" x2="324.20" y2="319.27" stroke="#000" stroke-width="1.0"/>
<circle cx="312.90" cy="319.24" r="2.42" fill="#fff" stroke="#000" stroke-width="1"/>
<text x="330.60" y="322.54" font-size="10.1" text-anchor="start" textLength="41.3" lengthAdjust="spacingAndGlyphs" style="stroke-width:0.2px">Ig control</text>
<line x1="301.30" y1="333.28" x2="324.20" y2="333.28" stroke="#000" stroke-width="1.0"/>
<path d="M309.83,331.05 L315.97,331.05 L312.90,336.44 Z" fill="#000"/>
<text x="330.60" y="336.58" font-size="10.1" text-anchor="start" textLength="25.6" lengthAdjust="spacingAndGlyphs" style="stroke-width:0.2px">&#945;IL10</text>
<line x1="301.30" y1="347.32" x2="324.20" y2="347.32" stroke="#000" stroke-width="1.0"/>
<path d="M310.48,345.55 L315.32,345.55 L312.90,349.92 Z" fill="#fff" stroke="#000" stroke-width="1"/>
<text x="330.60" y="350.62" font-size="10.1" text-anchor="start" textLength="26.0" lengthAdjust="spacingAndGlyphs" style="stroke-width:0.2px">&#945;TGF</text>
<line x1="301.30" y1="361.36" x2="324.20" y2="361.36" stroke="#000" stroke-width="1.0"/>
<rect x="310.20" y="358.66" width="5.39" height="5.39" fill="#000"/>
<text x="330.60" y="364.66" font-size="10.1" text-anchor="start" textLength="31.7" lengthAdjust="spacingAndGlyphs" style="stroke-width:0.2px">&#945;CD25</text>
<line x1="301.30" y1="375.40" x2="324.20" y2="375.40" stroke="#000" stroke-width="1.0"/>
<rect x="310.67" y="373.17" width="4.46" height="4.46" fill="#fff" stroke="#000" stroke-width="1"/>
<text x="330.60" y="378.70" font-size="10.1" text-anchor="start" textLength="78.0" lengthAdjust="spacingAndGlyphs" style="stroke-width:0.2px">&#945;IL10/TGF/CD25</text>
<line x1="414.27" y1="316.30" x2="414.27" y2="383.70" stroke="#333" stroke-width="1.0"/>
<text x="421.30" y="345.20" font-size="12" text-anchor="start">+DC<tspan font-size="8" dy="3.30">VIP</tspan></text>
</svg>
</body></html>
